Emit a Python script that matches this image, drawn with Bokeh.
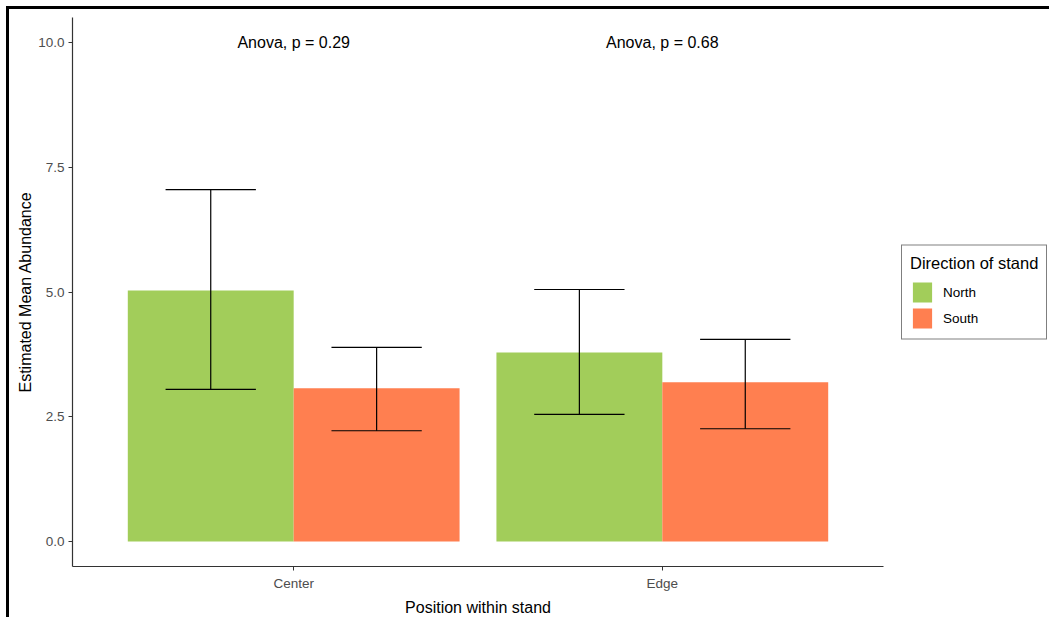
import numpy as np
from bokeh.plotting import figure
from bokeh.models import (Range1d, FixedTicker, NumeralTickFormatter, Legend, LegendItem)
from bokeh.core.properties import value
from bokeh.embed import file_html
from bokeh.resources import INLINE

# ---- data ----
positions = ["Center", "Edge"]
north_mean = [5.03, 3.79]
north_lower = [3.05, 2.55]
north_upper = [7.05, 5.05]
south_mean = [3.07, 3.19]
south_lower = [2.22, 2.26]
south_upper = [3.89, 4.05]
anova_labels = ["Anova, p = 0.29", "Anova, p = 0.68"]
y_ticks = [0.0, 2.5, 5.0, 7.5, 10.0]

FONT = "Liberation Sans"
GREEN = "#A2CD5A"
ORANGE = "#FF7F50"

p = figure(frame_width=811, frame_height=549, output_backend="svg", toolbar_location=None,
           x_range=Range1d(0.4, 2.6), y_range=Range1d(-0.5, 10.5),
           min_border_left=63, min_border_right=10, min_border_top=8, min_border_bottom=51)
p.styles = {"margin-left": "6px", "margin-top": "6px",
            "border-left": "3px solid black", "border-top": "3px solid black"}
p.outline_line_color = None
p.grid.visible = False
p.background_fill_color = "white"
p.border_fill_color = "white"

xc = np.arange(1, len(positions) + 1, dtype=float)
bw = 0.45
xn = xc - bw / 2
xs = xc + bw / 2

rn = p.vbar(x=xn, top=north_mean, bottom=0, width=bw, fill_color=GREEN, line_color=None)
rs = p.vbar(x=xs, top=south_mean, bottom=0, width=bw, fill_color=ORANGE, line_color=None)

cap = 0.1225
for xx, lo, hi in ((xn, north_lower, north_upper), (xs, south_lower, south_upper)):
    lo = np.array(lo); hi = np.array(hi)
    p.segment(x0=xx, y0=lo, x1=xx, y1=hi, line_color="black", line_width=1.2)
    p.segment(x0=xx - cap, y0=lo, x1=xx + cap, y1=lo, line_color="black", line_width=1.2)
    p.segment(x0=xx - cap, y0=hi, x1=xx + cap, y1=hi, line_color="black", line_width=1.2)

p.text(x=xc, y=[10.0] * len(xc), text=anova_labels, text_align="center",
       text_baseline="alphabetic", text_font=value(FONT), text_font_size="16px",
       text_color="black")

# axes
for ax in (p.xaxis[0], p.yaxis[0]):
    ax.axis_line_color = "#333333"
    ax.axis_line_width = 1.2
    ax.major_tick_line_color = "#333333"
    ax.major_tick_in = 0
    ax.major_tick_out = 4
    ax.minor_tick_line_color = None
    ax.major_label_text_font = FONT
    ax.major_label_text_font_size = "13.5px"
    ax.major_label_text_color = "#4D4D4D"
    ax.axis_label_text_font = FONT
    ax.axis_label_text_font_size = "16px"
    ax.axis_label_text_font_style = "normal"
    ax.axis_label_text_color = "black"

p.xaxis.ticker = FixedTicker(ticks=list(xc))
p.xaxis.major_label_overrides = {float(v): lab for v, lab in zip(xc, positions)}
p.xaxis.major_label_overrides.update({int(v): lab for v, lab in zip(xc, positions)})
p.xaxis.axis_label = "Position within stand"
p.xaxis.major_label_standoff = 5
p.xaxis.axis_label_standoff = 5

p.yaxis.ticker = FixedTicker(ticks=y_ticks)
p.yaxis.formatter = NumeralTickFormatter(format="0.0")
p.yaxis.axis_label = "Estimated Mean Abundance"
p.yaxis.major_label_standoff = 4
p.yaxis.axis_label_standoff = 1

legend = Legend(items=[LegendItem(label="North", renderers=[rn]),
                       LegendItem(label="South", renderers=[rs])],
                title="Direction of stand", location="left",
                title_text_font=FONT, title_text_font_size="16.5px",
                title_text_font_style="normal", title_text_color="black",
                label_text_font=FONT, label_text_font_size="13.5px",
                label_text_color="black", title_standoff=7,
                glyph_width=24, glyph_height=25, label_height=25, label_standoff=9,
                spacing=1, padding=8, margin=18,
                border_line_color="black", border_line_width=1,
                background_fill_color="white", background_fill_alpha=1.0)
p.add_layout(legend, "right")

open("out.html", "w").write(file_html(p, INLINE))
